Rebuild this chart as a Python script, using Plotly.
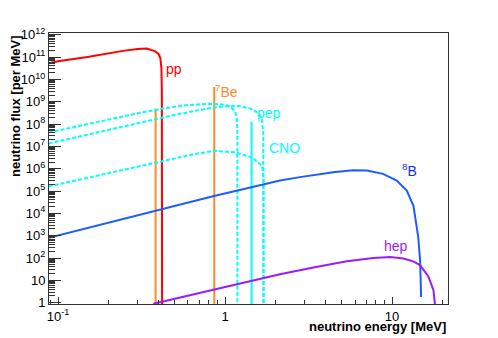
"""
Solar neutrino spectra (log-log) with Plotly.
"""

import plotly.graph_objects as go

# ─── Data (energy in MeV, flux per MeV) ──────────────────────────────────────
PP_E = [0.08, 0.10, 0.15, 0.20, 0.25, 0.30, 0.34, 0.38, 0.40, 0.41, 0.416, 0.4185, 0.42]
PP_F = [4.5e10, 6.5e10, 1.0e11, 1.5e11, 1.95e11, 2.3e11, 2.4e11, 1.86e11, 1.4e11,
        8.9e10, 3.2e10, 3.2e9, 0.1]

BE7_E   = [0.384, 0.862]
BE7_TOP = [5.0e8, 4.6e9]

PEP_E   = 1.442
PEP_TOP = 1.3e8

N13_E = [0.088, 0.135, 0.205, 0.31, 0.44, 0.575, 0.76, 0.93, 1.04, 1.10, 1.15, 1.175, 1.185, 1.186]
N13_F = [4.2e7, 8.5e7, 1.66e8, 3.2e8, 5.2e8, 6.9e8, 7.9e8, 7.8e8, 6.8e8, 5.2e8, 3.5e8,
         2.0e8, 4.0e7, 0.1]

O15_E = [0.088, 0.135, 0.205, 0.31, 0.489, 0.661, 0.871, 1.072, 1.23, 1.413, 1.513, 1.60,
         1.66, 1.695, 1.70]
O15_F = [1.35e7, 2.8e7, 5.75e7, 1.15e8, 2.5e8, 3.9e8, 5.6e8, 6.6e8, 6.3e8, 5.0e8, 3.9e8,
         2.8e8, 1.66e8, 4.0e7, 0.1]

F17_E = [0.088, 0.135, 0.205, 0.31, 0.489, 0.661, 0.871, 1.148, 1.45, 1.62, 1.68, 1.70, 1.701]
F17_F = [1.6e5, 3.3e5, 6.8e5, 1.38e6, 2.9e6, 4.6e6, 6.3e6, 5.4e6, 3.2e6, 1.6e6, 1.0e6,
         3.2e5, 0.1]

B8_E = [0.088, 0.381, 0.847, 1.318, 2.133, 2.812, 4.436, 5.834, 7.063, 8.83, 10.67, 12.25,
        13.43, 14.35, 14.72, 14.93]
B8_F = [8.1e2, 1.35e4, 5.9e4, 1.26e5, 2.95e5, 4.2e5, 6.9e5, 8.5e5, 8.3e5, 5.9e5, 2.95e5,
        1.05e5, 2.2e4, 8.7e2, 79, 1.8]

HEP_E = [0.372, 0.851, 1.318, 2.133, 3.38, 5.36, 7.73, 9.73, 11.7, 13.4, 14.7, 16.5, 17.7, 18.3]
HEP_F = [0.89, 3.8, 8.3, 18.6, 38, 72, 100, 110, 95, 71, 48, 15, 3.6, 0.32]

X_TICKS  = [0.1, 1, 10]
X_LABELS = ["10<sup>-1</sup>", "1", "10"]
Y_TICKS  = [10 ** k for k in range(13)]
Y_LABELS = ["1", "10"] + [f"10<sup>{k}</sup>" for k in range(2, 13)]

# ─── Palette ─────────────────────────────────────────────────────────────────
C_PP   = "#FF0000"
C_BE   = "#FF8A2A"
C_CYAN = "#00FFFF"
C_B8   = "#1F5CFF"
C_B8_T = "#1030EE"
C_HEP  = "#9B1BFF"
C_AXIS = "#333333"

_FONT = "Liberation Sans, Arial, Helvetica, sans-serif"

# the page body adds an 8 px margin: draw the figure from (8, 8) to the window edge
OFF = 8
W, H = 498 - OFF, 338 - OFF
# plot area in screen pixels: x 49..448, y 33..304
L, R, T, B = 49, 448, 33, 304


def _px(x, y):
    """Screen pixel position -> paper coordinates."""
    return (x - L) / (R - L), (B - y) / (B - T)


def _line(x, y, color, dash="solid", width=2):
    return go.Scatter(x=x, y=y, mode="lines", showlegend=False, hoverinfo="skip",
                      line=dict(color=color, width=width, dash=dash))


fig = go.Figure()

fig.add_trace(_line(PP_E, PP_F, C_PP))
for e, top in zip(BE7_E, BE7_TOP):
    fig.add_trace(_line([e, e], [0.5, top], C_BE))
fig.add_trace(_line([PEP_E, PEP_E], [0.5, PEP_TOP], C_CYAN))
for xs, ys in ((N13_E, N13_F), (O15_E, O15_F), (F17_E, F17_F)):
    fig.add_trace(_line(xs, ys, C_CYAN, dash="4px,2px"))
fig.add_trace(_line(B8_E, B8_F, C_B8))
fig.add_trace(_line(HEP_E, HEP_F, C_HEP))

# ─── Labels on the curves ────────────────────────────────────────────────────
labels = [
    ("pp", 163.5, 68.5, C_PP),
    ("<sup>7</sup>Be", 213, 91, C_BE),
    ("pep", 254.5, 112.5, C_CYAN),
    ("CNO", 266.5, 147.5, C_CYAN),
    ("<sup>8</sup>B", 400, 169.5, C_B8_T),
    ("hep", 381.5, 246, C_HEP),
]
for text, x, y, col in labels:
    px, py = _px(x, y)
    fig.add_annotation(text=text, x=px, y=py, xref="paper", yref="paper",
                       xanchor="left", yanchor="middle", showarrow=False,
                       font=dict(color=col, size=14, family=_FONT))

# axis titles (ROOT style: at the end of the axes)
tx, ty = _px(448, 326)
fig.add_annotation(text="<b>neutrino energy [MeV]</b>", x=tx, y=ty, xref="paper",
                   yref="paper", xanchor="right", yanchor="middle", showarrow=False,
                   font=dict(color="#000000", size=13, family=_FONT))
tx, ty = _px(15, 33)
fig.add_annotation(text="<b>neutrino flux [per MeV]</b>", x=tx, y=ty, xref="paper",
                   yref="paper", xanchor="center", yanchor="top", textangle=-90,
                   showarrow=False, font=dict(color="#000000", size=13, family=_FONT))

x_minor = [m * 10 ** k for k in (-2, -1, 0, 1) for m in range(2, 10)]
y_minor = [m * 10 ** k for k in range(12) for m in range(2, 10)]

fig.update_xaxes(
    type="log", range=[-1.054, 1.335], automargin=False,
    tickmode="array", tickvals=X_TICKS, ticktext=X_LABELS,
    ticks="inside", ticklen=7, tickwidth=1, tickcolor=C_AXIS,
    minor=dict(tickmode="array", tickvals=x_minor, ticks="inside", ticklen=4,
               tickwidth=1, tickcolor=C_AXIS, showgrid=False),
    showgrid=False, zeroline=False,
    showline=True, linecolor=C_AXIS, linewidth=1, mirror=True,
    tickfont=dict(color="#000000", size=13, family=_FONT),
)
fig.update_yaxes(
    type="log", range=[-0.06, 12.08], automargin=False,
    tickmode="array", tickvals=Y_TICKS, ticktext=Y_LABELS,
    ticks="inside", ticklen=12, tickwidth=1, tickcolor=C_AXIS,
    minor=dict(tickmode="array", tickvals=y_minor, ticks="inside", ticklen=6,
               tickwidth=1, tickcolor=C_AXIS, showgrid=False),
    showgrid=False, zeroline=False,
    showline=True, linecolor=C_AXIS, linewidth=1, mirror=True,
    tickfont=dict(color="#000000", size=13, family=_FONT),
)

fig.update_layout(
    width=W, height=H,
    margin=dict(l=L - OFF, r=W - (R - OFF), t=T - OFF, b=H - (B - OFF)),
    plot_bgcolor="white", paper_bgcolor="white",
    font=dict(family=_FONT, color="#000000"),
    showlegend=False,
)

fig.write_html("out.html")
